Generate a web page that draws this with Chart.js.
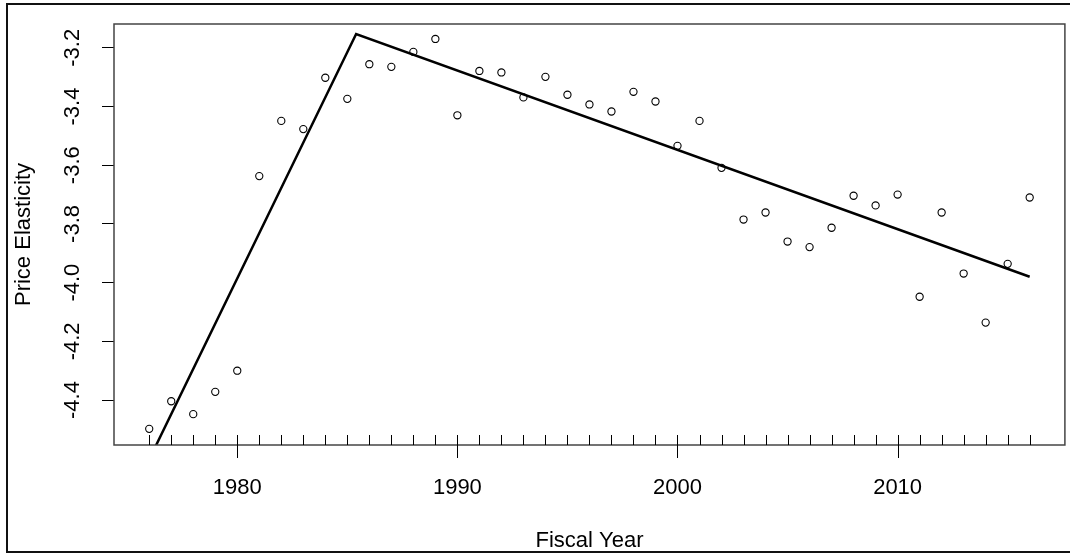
<!DOCTYPE html>
<html>
<head>
<meta charset="utf-8">
<title>Price Elasticity by Fiscal Year</title>
<script src="https://cdn.jsdelivr.net/npm/chart.js@4/dist/chart.umd.min.js"></script>
<style>
    html, body { margin: 0; padding: 0; background: #fff; }
    #wrap { position: relative; width: 1070px; height: 554px; }
</style>
</head>
<body>
<div id="wrap"><canvas id="chartID"></canvas></div>
<script>
// observed values, one per fiscal year
var years = [1976, 1977, 1978, 1979, 1980, 1981, 1982, 1983, 1984, 1985,
             1986, 1987, 1988, 1989, 1990, 1991, 1992, 1993, 1994, 1995,
             1996, 1997, 1998, 1999, 2000, 2001, 2002, 2003, 2004, 2005,
             2006, 2007, 2008, 2009, 2010, 2011, 2012, 2013, 2014, 2015, 2016];
var elasticity = [-4.498, -4.404, -4.448, -4.372, -4.300, -3.637, -3.449, -3.477, -3.302, -3.374,
                  -3.256, -3.265, -3.214, -3.170, -3.430, -3.279, -3.284, -3.369, -3.299, -3.360,
                  -3.393, -3.417, -3.350, -3.383, -3.534, -3.449, -3.609, -3.785, -3.761, -3.860,
                  -3.879, -3.813, -3.704, -3.737, -3.700, -4.048, -3.761, -3.969, -4.136, -3.936, -3.710];

// segmented fit: start, breakpoint, end
var fitYears = [1976, 1985.4, 2016];
var fitValues = [-4.602, -3.153, -3.980];

// axis ticks
var xTickLabels = [1980, 1990, 2000, 2010];
var yTicks = [-4.4, -4.2, -4.0, -3.8, -3.6, -3.4, -3.2];

var points = years.map(function (yr, i) { return { x: yr, y: elasticity[i] }; });
var fit = fitYears.map(function (yr, i) { return { x: yr, y: fitValues[i] }; });

Chart.defaults.font.family = "'Liberation Sans', Arial, sans-serif";
Chart.defaults.color = '#000';

// box round the plot, year ticks on the x axis, outer frame
var rFrame = {
    id: 'rFrame',
    afterDraw: function (chart) {
        var ctx = chart.ctx;
        var a = chart.chartArea;
        var x = chart.scales.x;
        ctx.save();
        ctx.strokeStyle = '#444';
        ctx.lineWidth = 1.5;
        ctx.strokeRect(a.left, a.top, a.right - a.left, a.bottom - a.top);

        ctx.strokeStyle = '#000';
        ctx.lineWidth = 1;
        ctx.beginPath();
        years.forEach(function (yr) {
            var px = Math.round(x.getPixelForValue(yr)) + 0.5;
            var major = xTickLabels.indexOf(yr) >= 0;
            ctx.moveTo(px, a.bottom - 10);
            ctx.lineTo(px, major ? a.bottom + 13 : a.bottom);
        });
        ctx.stroke();

        ctx.strokeStyle = '#111';
        ctx.lineWidth = 2;
        ctx.strokeRect(7, 4, 1075, 548);
        ctx.restore();
    }
};

new Chart(document.getElementById('chartID'), {
    type: 'scatter',
    data: {
        datasets: [
            {
                label: 'Price Elasticity',
                data: points,
                showLine: false,
                pointStyle: 'circle',
                pointRadius: 3.6,
                pointBorderWidth: 1.1,
                pointBorderColor: '#000',
                pointBackgroundColor: 'rgba(0,0,0,0)'
            },
            {
                label: 'Fit',
                data: fit,
                showLine: true,
                borderColor: '#000',
                borderWidth: 2.5,
                pointRadius: 0,
                tension: 0,
                clip: 0
            }
        ]
    },
    options: {
        responsive: true,
        maintainAspectRatio: false,
        animation: false,
        events: [],
        layout: { padding: { left: 0, top: 24, right: 4, bottom: 0 } },
        plugins: {
            legend: { display: false },
            tooltip: { enabled: false }
        },
        scales: {
            x: {
                type: 'linear',
                min: 1974.4,
                max: 2017.6,
                afterBuildTicks: function (axis) {
                    axis.ticks = xTickLabels.map(function (v) { return { value: v }; });
                },
                ticks: {
                    padding: 31.5,
                    font: { size: 22, lineHeight: 1 },
                    color: '#000',
                    callback: function (v) { return String(v); }
                },
                grid: { display: false, drawTicks: false },
                border: { display: false },
                title: {
                    display: true,
                    text: 'Fiscal Year',
                    font: { size: 22, lineHeight: 1 },
                    color: '#000',
                    padding: { top: 0, bottom: 2 }
                }
            },
            y: {
                type: 'linear',
                min: -4.553,
                max: -3.119,
                afterBuildTicks: function (axis) {
                    axis.ticks = yTicks.map(function (v) { return { value: v }; });
                },
                ticks: {
                    padding: 10.5,
                    minRotation: 90,
                    maxRotation: 90,
                    crossAlign: 'center',
                    font: { size: 22, lineHeight: 1 },
                    color: '#000',
                    callback: function (v) { return v.toFixed(1); }
                },
                grid: {
                    drawOnChartArea: false,
                    drawTicks: true,
                    tickLength: 12,
                    tickWidth: 1,
                    tickColor: '#000'
                },
                border: { display: false },
                title: {
                    display: true,
                    text: 'Price Elasticity',
                    font: { size: 22, lineHeight: 1 },
                    color: '#000',
                    padding: { top: 12.5, bottom: 24.5 }
                }
            }
        }
    },
    plugins: [rFrame]
});
</script>
</body>
</html>
